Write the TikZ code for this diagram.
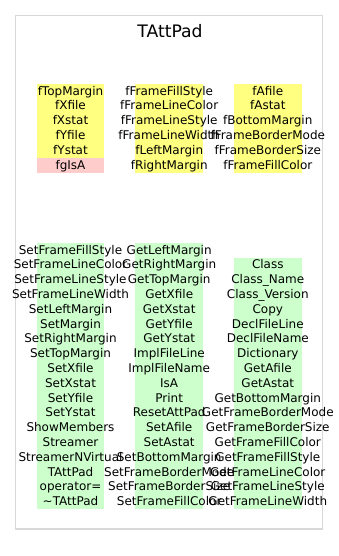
\documentclass[tikz,border=0pt]{standalone}
\usepackage{fontspec}
\setmainfont{DejaVu Sans}
\definecolor{datafill}{RGB}{255,255,128}
\definecolor{privfill}{RGB}{255,204,204}
\definecolor{funcfill}{RGB}{204,255,204}
\definecolor{framegray}{RGB}{216,216,216}
\begin{document}
\begin{tikzpicture}[x=1pt,y=-1pt,
  classframe/.style={draw=framegray, line width=1.2pt},
  member/.style={inner sep=0pt, anchor=base, font=\fontsize{12}{14}\selectfont},
  classtitle/.style={inner sep=0pt, anchor=base, font=\fontsize{17.2}{20}\selectfont}]
\useasboundingbox (0,0) rectangle (339,556);
% class frame and name
\draw[classframe] (15.7,15.3) rectangle (322.7,529);
\node[classtitle] (title) at (170,37.3) {TAttPad};

% data member backgrounds (column width 67.7, row height 14.8)
\fill[datafill] (36.65,84) rectangle (104.35,158);
\fill[privfill] (36.65,158) rectangle (104.35,172.8);
\fill[datafill] (135.35,84) rectangle (203.05,172.8);
\fill[datafill] (233.95,84) rectangle (301.65,172.8);

% data members
\foreach \t [count=\i] in {fTopMargin,fXfile,fXstat,fYfile,fYstat,fgIsA}
  \node[member] (d1-\i) at (70.5,{95.2+(\i-1)*14.8}) {\t};
\foreach \t [count=\i] in {fFrameFillStyle,fFrameLineColor,fFrameLineStyle,fFrameLineWidth,fLeftMargin,fRightMargin}
  \node[member] (d2-\i) at (169.2,{95.2+(\i-1)*14.8}) {\t};
\foreach \t [count=\i] in {fAfile,fAstat,fBottomMargin,fFrameBorderMode,fFrameBorderSize,fFrameFillColor}
  \node[member] (d3-\i) at (267.8,{95.2+(\i-1)*14.8}) {\t};

% method backgrounds
\fill[funcfill] (36.65,242.9) rectangle (104.35,509.3);
\fill[funcfill] (135.35,242.9) rectangle (203.05,509.3);
\fill[funcfill] (233.95,257.7) rectangle (301.65,509.3);

% methods
\foreach \t [count=\i] in {SetFrameFillStyle,SetFrameLineColor,SetFrameLineStyle,SetFrameLineWidth,SetLeftMargin,SetMargin,SetRightMargin,SetTopMargin,SetXfile,SetXstat,SetYfile,SetYstat,ShowMembers,Streamer,StreamerNVirtual,TAttPad,operator=,\textasciitilde TAttPad}
  \node[member] (f1-\i) at (70.5,{254.1+(\i-1)*14.8}) {\t};
\foreach \t [count=\i] in {GetLeftMargin,GetRightMargin,GetTopMargin,GetXfile,GetXstat,GetYfile,GetYstat,ImplFileLine,ImplFileName,IsA,Print,ResetAttPad,SetAfile,SetAstat,SetBottomMargin,SetFrameBorderMode,SetFrameBorderSize,SetFrameFillColor}
  \node[member] (f2-\i) at (169.2,{254.1+(\i-1)*14.8}) {\t};
\foreach \t [count=\i] in {Class,Class\_Name,Class\_Version,Copy,DeclFileLine,DeclFileName,Dictionary,GetAfile,GetAstat,GetBottomMargin,GetFrameBorderMode,GetFrameBorderSize,GetFrameFillColor,GetFrameFillStyle,GetFrameLineColor,GetFrameLineStyle,GetFrameLineWidth}
  \node[member] (f3-\i) at (267.8,{268.9+(\i-1)*14.8}) {\t};
\end{tikzpicture}
\end{document}
